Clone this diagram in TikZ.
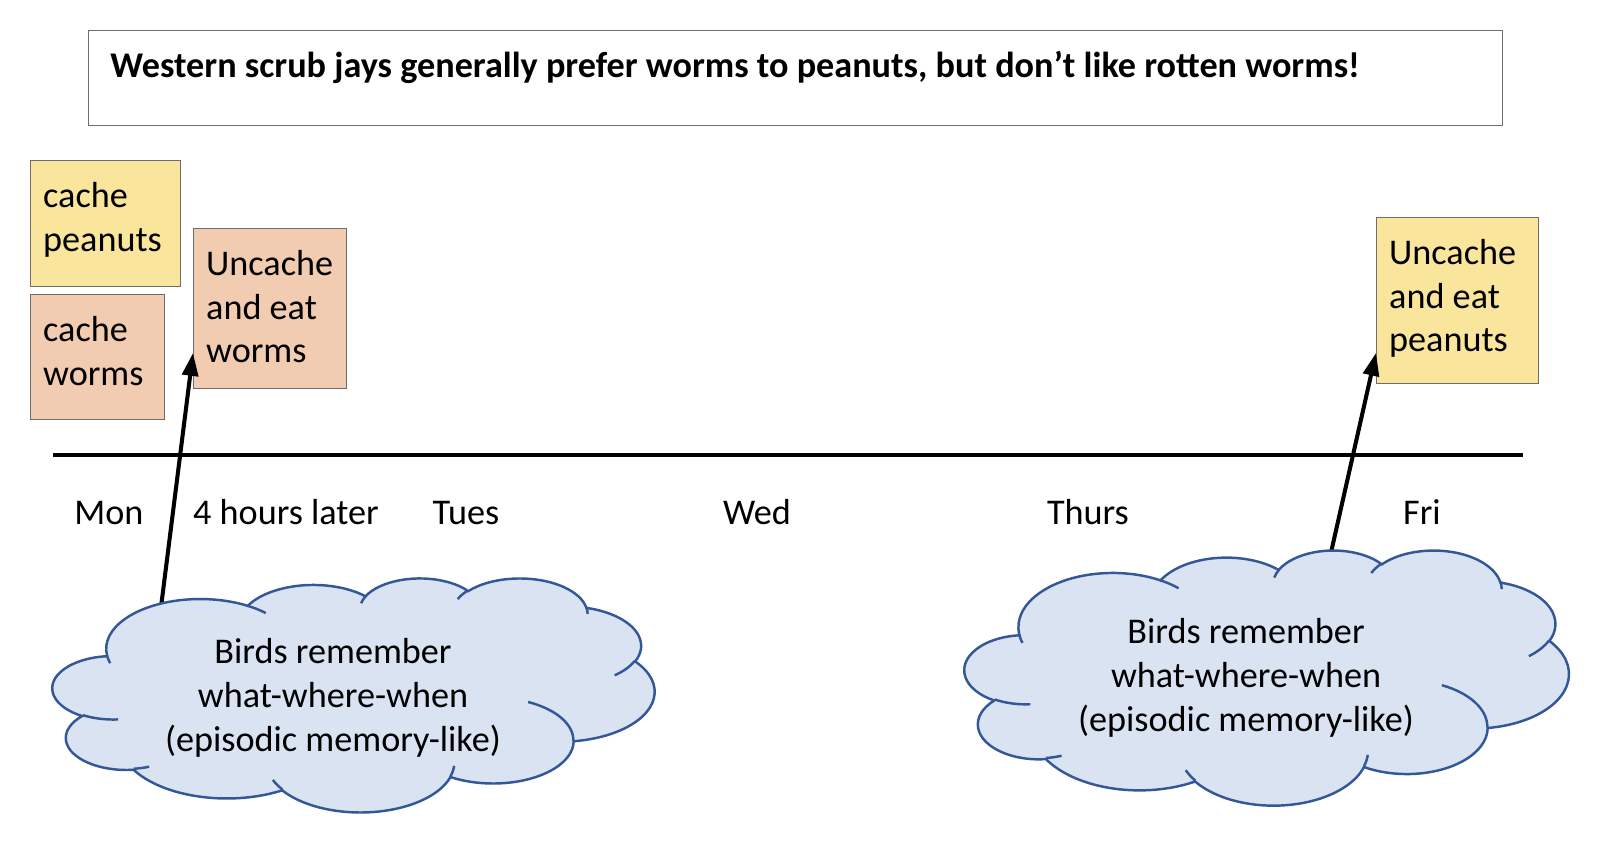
\documentclass[tikz,border=0pt]{standalone}
\usepackage{fontspec}
\setmainfont{Carlito}
\usetikzlibrary{arrows.meta}
\definecolor{peanutyellow}{RGB}{250,229,157}
\definecolor{wormsalmon}{RGB}{241,204,177}
\definecolor{cloudfill}{RGB}{218,227,242}
\definecolor{cloudline}{RGB}{52,87,152}
\definecolor{boxgray}{RGB}{110,110,110}

\tikzset{
    memcloud/.pic={
        % outline
        \draw[cloudline, fill=cloudfill, line width=1.4pt] (39,143.7)
            \foreach \rx/\ry/\st/\sw [evaluate=\st as \ta using {atan2(\rx*sin(\st),\ry*cos(\st))},
                evaluate=\sw as \dt using {mod(atan2(\rx*sin(\st+\sw),\ry*cos(\st+\sw))-\ta+720,360)}] in
            {67.53/91.90/-190.4875/123.7805, 53.33/72.67/-144.1024/89.9452,
             43.65/59.45/-145.8079/99.7230, 48.57/65.95/-130.9861/117.2417,
             53.33/72.73/-78.7089/109.0269, 67.75/92.20/-46.2673/130.2690,
             57.85/78.67/0.6250/114.0333, 67.52/92.15/22.4516/115.1726,
             77.20/105.43/66.2426/75.7110, 43.60/59.18/-274.9421/146.7356,
             43.45/59.45/-246.8285/152.5189}
            { arc[start angle=\ta, delta angle=\dt, x radius=\rx, y radius=\ry] } -- cycle;
        % creases
        \draw[cloudline, line width=1.4pt]
            \foreach \px/\py/\rx/\ry/\st/\sw [evaluate=\st as \ta using {atan2(\rx*sin(\st),\ry*cos(\st))},
                evaluate=\sw as \dt using {mod(atan2(\rx*sin(\st+\sw),\ry*cos(\st+\sw))-\ta+720,360)}] in
            {46.93/261.77/43.45/59.45/86.7420/26.4295, 69.28/348.99/43.60/59.18/73.6105/11.4475,
             164.78/390.90/67.52/92.15/137.6242/14.0811, 288.27/347.51/67.52/92.15/6.4533/15.9984,
             341.29/229.54/57.85/78.67/-70.2924/70.9174, 417.98/153.54/53.33/72.73/30.3180/27.7515,
             383.24/54.26/48.57/65.95/-13.7443/14.8589, 290.78/39.52/48.57/65.95/-149.1815/18.1954,
             221.41/47.20/43.65/59.45/-163.4943/17.6864, 140.00/51.92/67.53/91.90/-66.7070/12.3194,
             41.27/157.89/67.53/91.90/157.6544/11.8582}
            { (\px,\py) arc[start angle=\ta, delta angle=\dt, x radius=\rx, y radius=\ry] };
    }
}

\begin{document}
\begin{tikzpicture}[x=0.02cm, y=-0.02cm, >={Triangle[length=13pt, width=9pt]},
    every node/.style={font=\fontsize{20.6}{25}\selectfont},
    note/.style={draw=boxgray, line width=0.8pt, anchor=north west, align=flush left, inner xsep=0.25cm, inner ysep=0pt, text height=26.4pt},
    day/.style={text height=14pt, text depth=4pt, inner sep=0pt}]
    \useasboundingbox (0,0) rectangle (1598,848);

    % Title
    \node[draw=boxgray, line width=0.8pt, anchor=north west, minimum width=28.28cm, minimum height=1.9cm] (title) at (88,30) {};
    \node[anchor=west, inner sep=0pt, font=\fontsize{20.6}{25}\selectfont\bfseries] (titletext) at ([xshift=0.44cm, yshift=-0.74cm]title.north west) {Western scrub jays generally prefer worms to peanuts, but don’t like rotten worms!};

    % Mon and 4 hours later
    \node[note, fill=peanutyellow, text width=2.5cm, text depth=45.1pt] (cachepeanuts) at (30,160) {cache\\peanuts};
    \node[note, fill=wormsalmon, text width=2.18cm, text depth=44.5pt] (cacheworms) at (30,294) {cache\\worms};
    \node[note, fill=wormsalmon, text width=2.56cm, text depth=64.4pt] (uncacheworms) at (193,228) {Uncache\\and eat\\worms};

    % Fri
    \node[note, fill=peanutyellow, text width=2.74cm, text depth=67.8pt] (uncachepeanuts) at (1376,217) {Uncache\\and eat\\peanuts};

    % Timeline
    \coordinate (tstart) at (53,455);
    \coordinate (tend) at (1523,455);
    \draw[line width=2.8pt] (tstart) -- (tend);
    \node[day] (mon) at (109,516) {Mon};
    \node[day] (later) at (286,516) {4 hours later};
    \node[day] (tues) at (466,516) {Tues};
    \node[day] (wed) at (757,516) {Wed};
    \node[day] (thurs) at (1088,516) {Thurs};
    \node[day] (fri) at (1422,516) {Fri};

    % Clouds
    \node[minimum width=12.04cm, minimum height=4.68cm, inner sep=0pt] (cloudleft) at (354,695) {};
    \node[minimum width=12.08cm, minimum height=5.1cm, inner sep=0pt] (cloudright) at (1267,677.5) {};

    % Arrows
    \draw[->, line width=2.3pt] ([xshift=2.16cm, yshift=-0.64cm]cloudleft.north west) -- ([yshift=0.72cm]uncacheworms.south west);
    \draw[->, line width=2.3pt] ([xshift=7.25cm, yshift=-0.4cm]cloudright.north west) -- ([yshift=0.62cm]uncachepeanuts.south west);

    \pic[x=0.02787cm, y=-0.010833cm] at (cloudleft.north west) {memcloud};
    \pic[x=0.027963cm, y=-0.011806cm] at (cloudright.north west) {memcloud};
    \node[align=center, inner sep=0pt] (memleft) at (333,698) {Birds remember\\what-where-when\\(episodic memory-like)};
    \node[align=center, inner sep=0pt] (memright) at (1246,678) {Birds remember\\what-where-when\\(episodic memory-like)};
\end{tikzpicture}
\end{document}
